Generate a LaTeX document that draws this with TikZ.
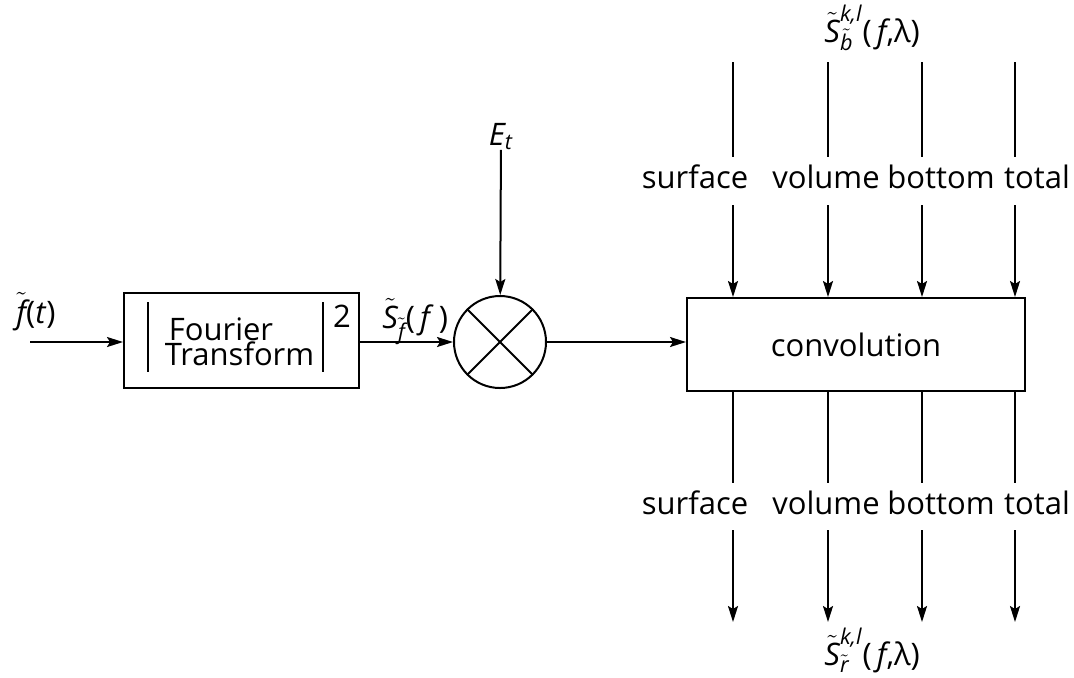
\documentclass[tikz,border=0pt]{standalone}
\usepackage{amsmath}
\usepackage{fontspec}
\setmainfont{Open Sans}
\usepackage{tikz}
\usetikzlibrary{arrows.meta,positioning,calc}
\newcommand{\vi}[1]{\text{\itshape #1}}

\begin{document}
\begin{tikzpicture}[x=0.5pt,y=-0.5pt,
  blk/.style={draw,line width=1pt,inner sep=0pt,font=\fontsize{15.5}{18}\selectfont},
  txt/.style={font=\fontsize{15.5}{18}\selectfont,inner sep=0pt},
  ln/.style={line width=1pt},
  arr/.style={-{Stealth[length=8pt,width=5pt,inset=1.5pt]},line width=1pt}]
  \useasboundingbox (0,0) rectangle (1074,677);
  % fourier block
  \node[blk,minimum width=117.5pt,minimum height=47.5pt] (ft) at (241.5,340.5) {};
  \node[txt,anchor=base] (fo) at (221,340) {Fourier};
  \node[txt,anchor=base] (tr) at (239.5,365) {Transform};
  \coordinate (bl1) at (148,302); \coordinate (bl2) at (148,372);
  \coordinate (br1) at (323,302); \coordinate (br2) at (323,372);
  \draw[ln] (bl1)--(bl2); \draw[ln] (br1)--(br2);
  \node[txt,anchor=base] (sq) at (342,327) {2};
  \coordinate (in) at (30,342);
  \node[txt,anchor=base] (fl) at (36,323) {$\tilde{\vi{f}}$(\textit{t})};
  \draw[arr] (in)--(in-|ft.west);
  % multiplier
  \node[draw,circle,line width=1pt,minimum size=46pt,inner sep=0pt] (mx) at (500,342) {};
  \draw[ln] (mx.45)--(mx.225); \draw[ln] (mx.135)--(mx.315);
  \draw[arr] (ft.east|-mx)--(mx);
  \node[txt,anchor=base west] (sf) at (382,328) {$\tilde{\vi{S}}_{\tilde{\vi{f}}}$(\,\textit{f}\,)};
  \node[txt,anchor=base] (et) at (501,145) {$\vi{E}_{\vi{t}}$};
  \draw[arr] (et)--(mx);
  % convolution
  \node[blk,minimum width=169pt,minimum height=46.5pt] (cv) at (856,344.5) {convolution};
  \draw[arr] (mx.east)--(mx.east-|cv.west);
  % inputs from above
  \node[txt,anchor=base west] (sb) at (824,42) {$\tilde{\vi{S}}^{\vi{k,l}}_{\tilde{\vi{b}}}$(\,\textit{f},λ)};
  \coordinate (ta1) at (733,62); \coordinate (tb1) at (733,157); \coordinate (tc1) at (733,205);
  \coordinate (ta2) at (828,62); \coordinate (tb2) at (828,157); \coordinate (tc2) at (828,205);
  \coordinate (ta3) at (922,62); \coordinate (tb3) at (922,157); \coordinate (tc3) at (922,205);
  \coordinate (ta4) at (1015,62); \coordinate (tb4) at (1015,157); \coordinate (tc4) at (1015,205);
  \draw[ln] (ta1)--(tb1); \draw[ln] (ta2)--(tb2); \draw[ln] (ta3)--(tb3); \draw[ln] (ta4)--(tb4);
  \node[txt,anchor=base] (u1) at (695,188) {surface};
  \node[txt,anchor=base] (u2) at (826,188) {volume};
  \node[txt,anchor=base] (u3) at (941,188) {bottom};
  \node[txt,anchor=base] (u4) at (1037,188) {total};
  \draw[arr] (tc1)--(tc1|-cv.north); \draw[arr] (tc2)--(tc2|-cv.north);
  \draw[arr] (tc3)--(tc3|-cv.north); \draw[arr] (tc4)--(tc4|-cv.north);
  % outputs below
  \coordinate (da1) at (733,483); \coordinate (db1) at (733,530); \coordinate (dc1) at (733,622);
  \coordinate (da2) at (828,483); \coordinate (db2) at (828,530); \coordinate (dc2) at (828,622);
  \coordinate (da3) at (922,483); \coordinate (db3) at (922,530); \coordinate (dc3) at (922,622);
  \coordinate (da4) at (1015,483); \coordinate (db4) at (1015,530); \coordinate (dc4) at (1015,622);
  \draw[ln] (da1|-cv.south)--(da1); \draw[ln] (da2|-cv.south)--(da2);
  \draw[ln] (da3|-cv.south)--(da3); \draw[ln] (da4|-cv.south)--(da4);
  \node[txt,anchor=base] (v1) at (695,514) {surface};
  \node[txt,anchor=base] (v2) at (826,514) {volume};
  \node[txt,anchor=base] (v3) at (941,514) {bottom};
  \node[txt,anchor=base] (v4) at (1037,514) {total};
  \draw[arr] (db1)--(dc1); \draw[arr] (db2)--(dc2); \draw[arr] (db3)--(dc3); \draw[arr] (db4)--(dc4);
  \node[txt,anchor=base west] (sr) at (824,665) {$\tilde{\vi{S}}^{\vi{k,l}}_{\tilde{\vi{r}}}$(\,\textit{f},λ)};
\end{tikzpicture}
\end{document}
